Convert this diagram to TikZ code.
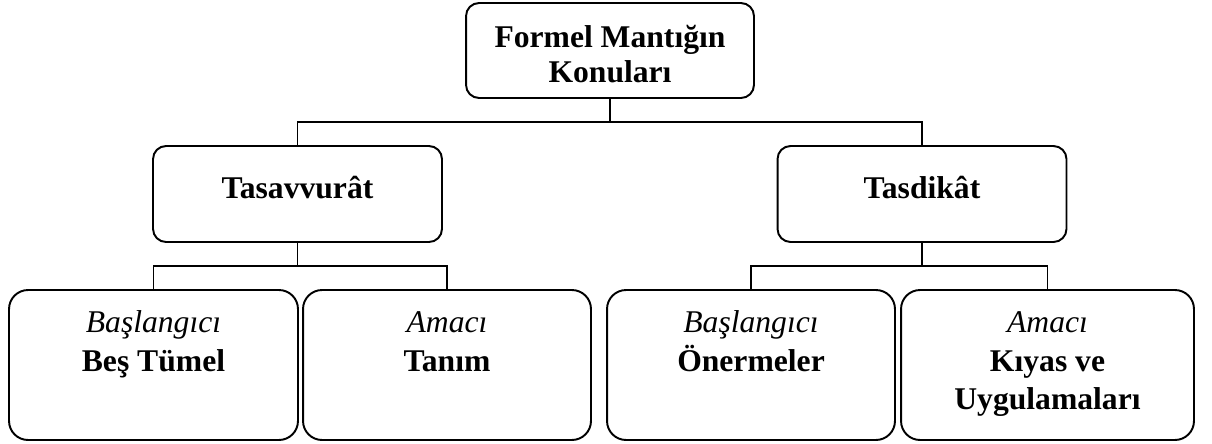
\documentclass[tikz,border=0pt]{standalone}
\usepackage{fontspec}
\setmainfont{Liberation Serif}
\newcommand{\boxtext}[4]{\parbox[c][#1][t]{#2}{\centering\vspace*{#3}\strut#4}}

\begin{document}
\begin{tikzpicture}[x=0.02cm,y=-0.02cm]
	\tikzstyle{BOX} = [draw, line width=1.1pt, inner sep=0pt, font=\fontsize{18}{21.9}\selectfont]
	\tikzstyle{head} = [BOX, rounded corners=0.26cm]
	\tikzstyle{leaf} = [BOX, rounded corners=0.38cm]
	\tikzstyle{link} = [line width=1.1pt]
	
	\useasboundingbox (0,0) rectangle (1212,443);
	
	\node[head, font=\fontsize{18}{19.9}\selectfont] (root) at (610,50.5) {\boxtext{1.9cm}{5.76cm}{0.41cm}{\textbf{Formel Mantığın\\ Konuları}}};
	
	\node[head] (tasav)  at (297.5,194) {\boxtext{1.92cm}{5.78cm}{0.52cm}{\textbf{Tasavvurât}}};
	\node[head] (tasdik) at (922,194)   {\boxtext{1.92cm}{5.78cm}{0.52cm}{\textbf{Tasdikât}}};
	
	\node[leaf] (bes)    at (153.5,365)  {\boxtext{3cm}{5.78cm}{0.32cm}{\textit{Başlangıcı}\\ \textbf{Beş Tümel}}};
	\node[leaf] (tanim)  at (447,365)    {\boxtext{3cm}{5.76cm}{0.32cm}{\textit{Amacı}\\ \textbf{Tanım}}};
	\node[leaf] (oner)   at (751,365)    {\boxtext{3cm}{5.76cm}{0.32cm}{\textit{Başlangıcı}\\ \textbf{Önermeler}}};
	\node[leaf] (kiyas)  at (1047.5,365) {\boxtext{3cm}{5.86cm}{0.32cm}{\textit{Amacı}\\ \textbf{Kıyas ve\\ Uygulamaları}}};
	
	\coordinate (jtop)   at (root.south |- 0,122);
	\coordinate (jleft)  at (tasav.south |- 0,266);
	\coordinate (jright) at (tasdik.south |- 0,266);
	
	\draw[link] (root.south) -- (jtop);
	\draw[link] (tasav.north) |- (jtop) -| (tasdik.north);
	
	\draw[link] (tasav.south) -- (jleft);
	\draw[link] (bes.north) |- (jleft) -| (tanim.north);
	
	\draw[link] (tasdik.south) -- (jright);
	\draw[link] (oner.north) |- (jright) -| (kiyas.north);
	
\end{tikzpicture}
\end{document}
